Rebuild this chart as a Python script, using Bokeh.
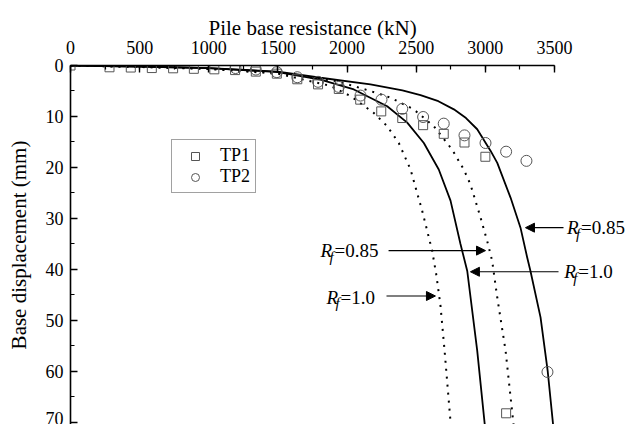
from bokeh.plotting import figure
from bokeh.models import (Range1d, SingleIntervalTicker, Legend, LegendItem,
                          Arrow, NormalHead, ColumnDataSource, Title)
from bokeh.core.properties import value
from bokeh.embed import file_html
from bokeh.resources import INLINE

FONT = "Liberation Serif"

tp1_load = [0, 282, 436, 588, 742, 892, 1040, 1190, 1340, 1492, 1640, 1790, 1940,
            2095, 2247, 2399, 2550, 2699, 2849, 3000, 3150]
tp1_disp = [0, 0.35, 0.4, 0.5, 0.55, 0.65, 0.75, 0.9, 1.2, 1.6, 2.7, 3.7, 4.6,
            6.7, 9.0, 10.3, 11.7, 13.4, 15.1, 17.9, 68.2]
tp2_load = [1193, 1340, 1492, 1640, 1790, 1940, 2097, 2249, 2399, 2550, 2699, 2849,
            3001, 3150, 3297, 3449]
tp2_disp = [0.5, 0.8, 1.3, 2.3, 3.2, 4.2, 5.9, 6.7, 8.5, 10.1, 11.4, 13.7,
            15.2, 16.9, 18.7, 60.1]

# ---- model curves ----
solid_rf085_load = [0, 500, 1000, 1500, 1808, 2169, 2400, 2531, 2660, 2772, 2860,
                    2941, 3037, 3086, 3182, 3254, 3302, 3326, 3399, 3451, 3490]
solid_rf085_disp = [0, 0.2, 0.5, 1.2, 2.4, 3.7, 4.9, 5.8, 7.0, 8.6, 10.3,
                    12.5, 16.7, 19.1, 25.9, 31.8, 37.6, 40.3, 49.4, 60.0, 70.5]
solid_rf10_load = [0, 500, 1000, 1500, 1808, 2049, 2290, 2435, 2555, 2663, 2748,
                   2820, 2869, 2941, 2996]
solid_rf10_disp = [0, 0.2, 0.5, 1.3, 2.75, 4.7, 8.0, 11.2, 15.2, 20.4, 26.5,
                   35.0, 40.3, 55.9, 70.5]
dotted_rf085_load = [0, 500, 1000, 1500, 1929, 2169, 2314, 2482, 2627, 2760, 2844,
                     2892, 2965, 3013, 3049, 3086, 3146, 3204]
dotted_rf085_disp = [0, 0.25, 0.6, 1.4, 3.1, 5.0, 6.3, 8.6, 11.9, 16.5, 20.4,
                     23.3, 29.8, 34.4, 38.3, 45.5, 55.9, 70.5]
dotted_rf10_load = [0, 500, 1000, 1500, 1880, 2025, 2193, 2290, 2374, 2459, 2543,
                    2615, 2645, 2675, 2705, 2750]
dotted_rf10_disp = [0, 0.3, 0.7, 1.6, 4.0, 6.0, 9.3, 11.9, 15.2, 20.4, 28.5,
                    36.3, 41.0, 47.0, 55.9, 70.5]

# ---- annotations ----
ann_rf_x = [3590, 3570, 1808, 1851]
ann_rf_y = [31.8, 40.45, 36.3, 45.4]
ann_rf_val = ["=0.85", "=1.0", "=0.85", "=1.0"]
arrow_x0 = [3565, 3529, 2300, 2285]
arrow_x1 = [3290, 2892, 3001, 2639]
arrow_y = [31.8, 40.45, 36.3, 45.2]

p = figure(width=628, height=424, output_backend="svg", toolbar_location=None,
           x_range=Range1d(0, 4035), y_range=Range1d(70.4, 0),
           x_axis_location="above", title=None,
           min_border_left=70, min_border_top=65, min_border_right=0,
           min_border_bottom=0, background_fill_color="white",
           border_fill_color="white")
p.outline_line_color = None
p.xgrid.visible = False
p.ygrid.visible = False

xa = p.xaxis[0]
xa.bounds = (0, 3500)
xa.ticker = SingleIntervalTicker(interval=500, num_minor_ticks=2)
ya = p.yaxis[0]
ya.ticker = SingleIntervalTicker(interval=10, num_minor_ticks=2)
ya.axis_label = "Base displacement (mm)"
for ax in (xa, ya):
    ax.axis_line_width = 1.6
    ax.axis_line_color = "black"
    ax.major_tick_in = 7
    ax.major_tick_out = 0
    ax.minor_tick_in = 4
    ax.minor_tick_out = 0
    ax.major_tick_line_width = 1.4
    ax.minor_tick_line_width = 1.2
    ax.major_tick_line_color = "black"
    ax.minor_tick_line_color = "black"
    ax.major_label_text_font = FONT
    ax.major_label_text_font_size = "18px"
    ax.major_label_text_color = "black"
    ax.axis_label_text_font = FONT
    ax.axis_label_text_font_size = "21px"
    ax.axis_label_text_font_style = "normal"
    ax.axis_label_text_color = "black"
xa.major_label_standoff = 12
ya.major_label_standoff = 7
ya.axis_label_standoff = 12

# x-axis title, centred over the 0-3500 span of the axis
title_kw = dict(text="Pile base resistance (kN)", align="left", offset=138,
                text_font=FONT, text_font_size="21px",
                text_font_style="normal", text_color="black")
try:
    xtitle = Title(standoff=-4, **title_kw)
except Exception:
    xtitle = Title(standoff=0, **title_kw)
p.add_layout(xtitle, "above")

# curves
p.line(dotted_rf10_load, dotted_rf10_disp, line_color="black", line_width=2,
       line_dash="2 6")
p.line(dotted_rf085_load, dotted_rf085_disp, line_color="black", line_width=2,
       line_dash="2 6")
p.line(solid_rf10_load, solid_rf10_disp, line_color="black", line_width=1.8)
p.line(solid_rf085_load, solid_rf085_disp, line_color="black", line_width=1.8)

# test data
r1 = p.scatter(tp1_load, tp1_disp, marker="square", size=9, fill_color=None,
               line_color="#555555", line_width=1)
r2 = p.scatter(tp2_load, tp2_disp, marker="circle", size=11, fill_color=None,
               line_color="#555555", line_width=1)

# arrows
asrc = ColumnDataSource(dict(x0=arrow_x0, x1=arrow_x1, y=arrow_y))
p.add_layout(Arrow(x_start="x0", y_start="y", x_end="x1", y_end="y", source=asrc,
                   line_color="black", line_width=1.2,
                   end=NormalHead(size=9, fill_color="black", line_color="black",
                                  line_width=1)))

# R_f labels
tsrc = ColumnDataSource(dict(x=ann_rf_x, y=ann_rf_y, v=ann_rf_val,
                             r=["R"] * 4, f=["f"] * 4))
p.text(x="x", y="y", text="r", source=tsrc, text_font=value(FONT),
       text_font_size="19px", text_font_style="italic", text_baseline="middle",
       text_align="left", text_color="black")
p.text(x="x", y="y", text="f", source=tsrc, text_font=value(FONT),
       text_font_size="15px", text_font_style="italic", text_baseline="middle",
       text_align="left", text_color="black", x_offset=9, y_offset=6)
p.text(x="x", y="y", text="v", source=tsrc, text_font=value(FONT),
       text_font_size="19px", text_baseline="middle", text_align="left",
       text_color="black", x_offset=14)

legend = Legend(items=[LegendItem(label="TP1", renderers=[r1]),
                       LegendItem(label="TP2", renderers=[r2])],
                location=(101, 231), label_text_font=FONT,
                label_text_font_size="18px", label_text_color="black",
                border_line_color="#444444", border_line_width=1,
                background_fill_color="white", background_fill_alpha=1,
                padding=5, spacing=0, glyph_width=36, glyph_height=20,
                label_standoff=7, margin=0)
p.add_layout(legend)

open("out.html", "w").write(file_html(p, INLINE))
